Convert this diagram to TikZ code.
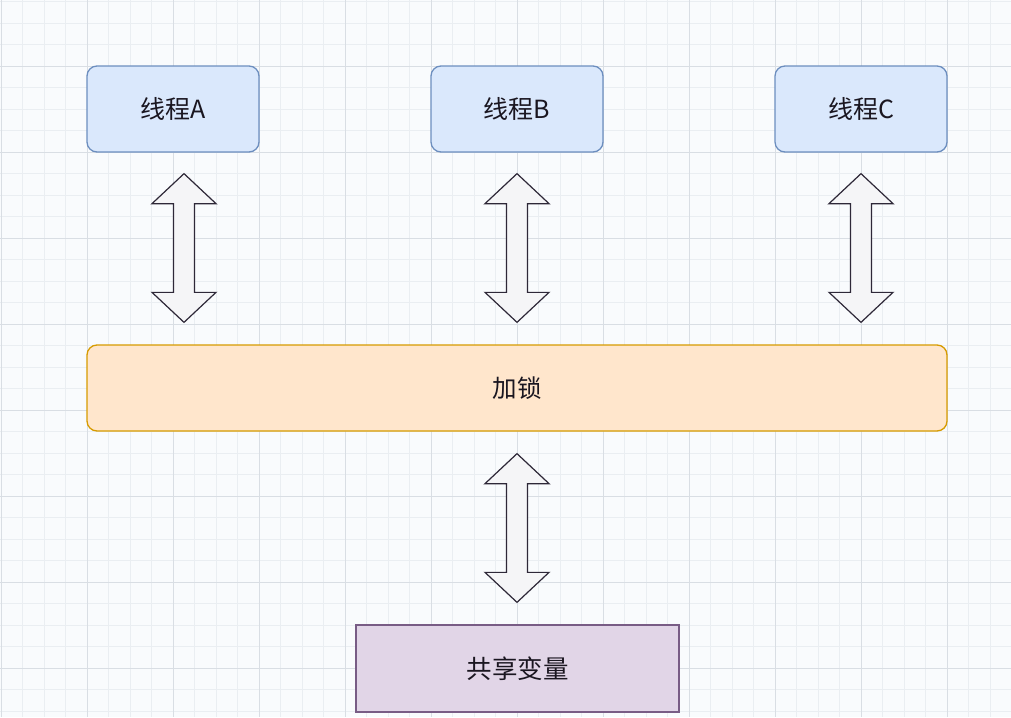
\documentclass[tikz,border=0pt]{standalone}
\usepackage{fontspec}
\newfontfamily\cjk{Noto Sans CJK SC}
\usetikzlibrary{calc}
\definecolor{bgc}{HTML}{F9FBFD}
\definecolor{minorc}{HTML}{EAEEF2}
\definecolor{majorc}{HTML}{D9DEE4}
\definecolor{bluef}{HTML}{DAE8FC}
\definecolor{blued}{HTML}{6C8EBF}
\definecolor{orangef}{HTML}{FFE6CC}
\definecolor{oranged}{HTML}{D79B00}
\definecolor{purplef}{HTML}{E1D5E7}
\definecolor{purpled}{HTML}{9673A6}
\definecolor{arrowf}{HTML}{F5F5F7}
\definecolor{arrowd}{HTML}{2E2838}
\definecolor{txt}{HTML}{1A1620}
\newcommand\dblarrow[2]{%
  \path[barrow] let \p1=(#1), \p2=(#2) in
    (\x1,\y1) -- (\x1+32pt,\y1-30pt) -- (\x1+10.5pt,\y1-30pt) -- (\x1+10.5pt,\y2+30pt)
    -- (\x1+32pt,\y2+30pt) -- (\x1,\y2) -- (\x1-32pt,\y2+30pt) -- (\x1-10.5pt,\y2+30pt)
    -- (\x1-10.5pt,\y1-30pt) -- (\x1-32pt,\y1-30pt) -- cycle;}
\begin{document}
\begin{tikzpicture}[x=1pt,y=-1pt,
  minorline/.style={draw=minorc,line width=0.8pt},
  majorline/.style={draw=majorc,line width=1pt},
  thread/.style={draw=blued,fill=bluef,line width=1.3pt,rounded corners=10pt,
    minimum width=172pt,minimum height=86pt,font=\cjk\fontsize{25}{27}\selectfont,text=txt},
  lockbox/.style={draw=oranged,fill=orangef,line width=1.3pt,rounded corners=10pt,
    minimum width=860pt,minimum height=86pt,font=\cjk\fontsize{24.5}{26}\selectfont,text=txt},
  varbox/.style={draw=purpled!80!black,fill=purplef,line width=1.3pt,
    minimum width=323pt,minimum height=87pt,font=\cjk\fontsize{25.5}{27}\selectfont,text=txt},
  barrow/.style={draw=arrowd,fill=arrowf,line width=1.2pt,line join=miter}]
\useasboundingbox (0,0) rectangle (1011,717);
\fill[bgc] (0,0) rectangle (1011,717);
\begin{scope}
\clip (0,0) rectangle (1011,717);
\foreach \i in {0,...,47} \path[minorline] (1+21.5*\i,0) -- (1+21.5*\i,717);
\foreach \i in {1,...,34} \path[minorline] (0,-20+21.5*\i) -- (1011,-20+21.5*\i);
\foreach \i in {0,...,11} \path[majorline] (1+86*\i,0) -- (1+86*\i,717);
\foreach \i in {1,...,8} \path[majorline] (0,-20+86*\i) -- (1011,-20+86*\i);
\end{scope}
\node[thread] (A) at (173,109) {线程A};
\node[thread] (B) at (517,109) {线程B};
\node[thread] (C) at (861,109) {线程C};
\node[lockbox] (L) at (517,388) {加锁};
\node[varbox] (V) at (517.5,668.5) {共享变量};
\coordinate (at) at ($(A.south)+(11,21)$);
\coordinate (ab) at ($(at |- L.north)+(0,-22)$);
\coordinate (bt) at ($(B.south)+(0,21)$);
\coordinate (bb) at ($(bt |- L.north)+(0,-22)$);
\coordinate (ct) at ($(C.south)+(0,21)$);
\coordinate (cb) at ($(ct |- L.north)+(0,-22)$);
\coordinate (lt) at ($(L.south)+(0,22)$);
\coordinate (lb) at ($(lt |- V.north)+(0,-22)$);
\dblarrow{at}{ab}
\dblarrow{bt}{bb}
\dblarrow{ct}{cb}
\dblarrow{lt}{lb}
\end{tikzpicture}
\end{document}
